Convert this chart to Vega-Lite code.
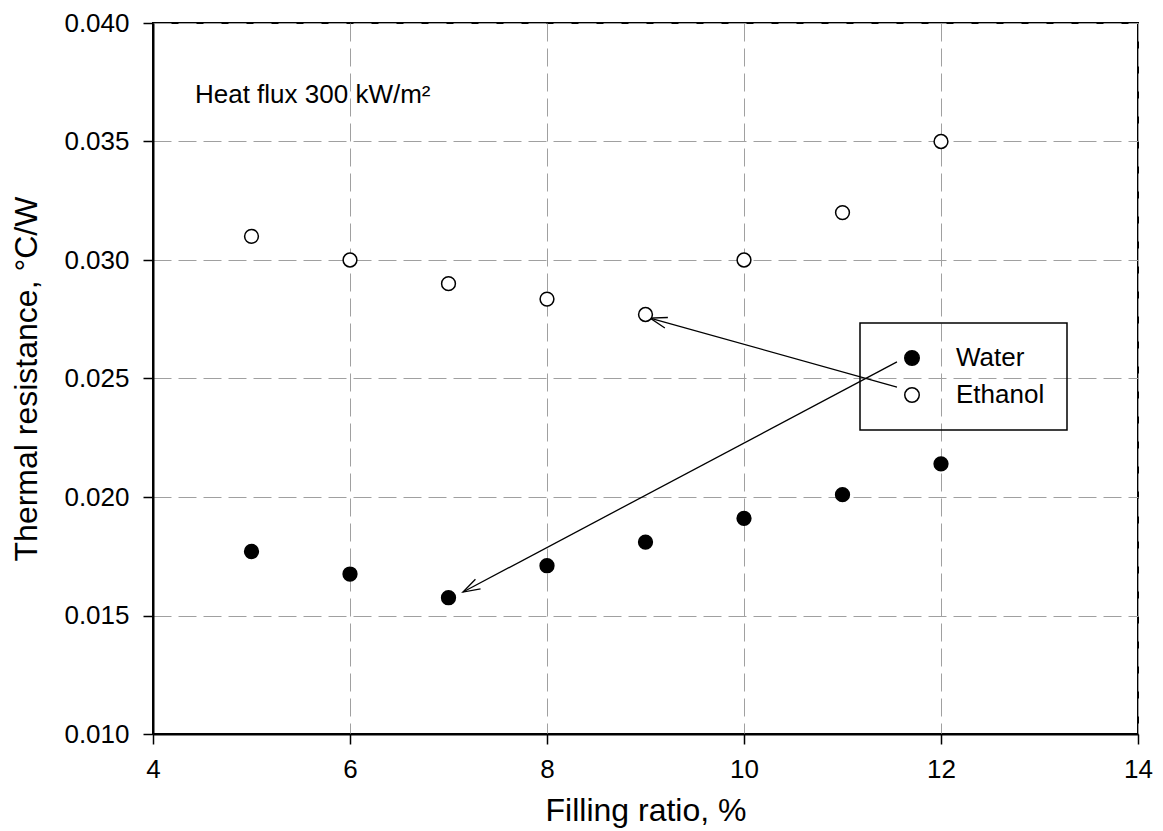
{
  "$schema": "https://vega.github.io/schema/vega-lite/v6.json",
  "width": 985,
  "height": 711,
  "autosize": "none",
  "padding": {"left": 153, "top": 23, "right": 25, "bottom": 97},
  "background": "white",
  "config": {
    "font": "Liberation Sans",
    "view": {"stroke": "black", "strokeWidth": 2},
    "axis": {
      "labelFont": "Liberation Sans",
      "titleFont": "Liberation Sans",
      "labelFontSize": 26,
      "titleFontSize": 32,
      "titleFontWeight": "normal",
      "labelColor": "black",
      "titleColor": "black",
      "domainColor": "black",
      "domainWidth": 2,
      "tickColor": "black",
      "tickWidth": 1.5,
      "tickSize": 10,
      "labelPadding": 12,
      "labelFlush": false,
      "labelOverlap": false,
      "grid": true,
      "gridColor": "#a0a0a0",
      "gridDash": [18, 7],
      "gridWidth": 1
    },
    "legend": {"strokeWidth": 1.5}
  },
  "datasets": {
    "points": [
      {"ratio": 5, "resistance": 0.0177, "fluid": "Water"},
      {"ratio": 6, "resistance": 0.01675, "fluid": "Water"},
      {"ratio": 7, "resistance": 0.01575, "fluid": "Water"},
      {"ratio": 8, "resistance": 0.0171, "fluid": "Water"},
      {"ratio": 9, "resistance": 0.0181, "fluid": "Water"},
      {"ratio": 10, "resistance": 0.0191, "fluid": "Water"},
      {"ratio": 11, "resistance": 0.0201, "fluid": "Water"},
      {"ratio": 12, "resistance": 0.0214, "fluid": "Water"},
      {"ratio": 5, "resistance": 0.031, "fluid": "Ethanol"},
      {"ratio": 6, "resistance": 0.03, "fluid": "Ethanol"},
      {"ratio": 7, "resistance": 0.029, "fluid": "Ethanol"},
      {"ratio": 8, "resistance": 0.02835, "fluid": "Ethanol"},
      {"ratio": 9, "resistance": 0.0277, "fluid": "Ethanol"},
      {"ratio": 10, "resistance": 0.03, "fluid": "Ethanol"},
      {"ratio": 11, "resistance": 0.032, "fluid": "Ethanol"},
      {"ratio": 12, "resistance": 0.035, "fluid": "Ethanol"}
    ],
    "arrows": [
      {"fluid": "Water", "x_from": 11.553, "y_from": 0.0257, "x_to": 7.147, "y_to": 0.01599},
      {"fluid": "Ethanol", "x_from": 11.553, "y_from": 0.02464, "x_to": 9.046, "y_to": 0.02755}
    ],
    "note": [
      {"ratio": 4.426, "resistance": 0.03662, "label": "Heat flux 300 kW/m²"}
    ]
  },
  "layer": [
    {
      "data": {"name": "arrows"},
      "mark": {"type": "rule", "color": "black", "strokeWidth": 1.3},
      "encoding": {
        "x": {"field": "x_from", "type": "quantitative", "scale": {"domain": [4, 14], "nice": false, "zero": false},
              "axis": {"title": "Filling ratio, %", "values": [4, 6, 8, 10, 12, 14], "format": "d", "titlePadding": 13}},
        "y": {"field": "y_from", "type": "quantitative", "scale": {"domain": [0.01, 0.04], "nice": false, "zero": false},
              "axis": {"title": "Thermal resistance, °C/W", "values": [0.01, 0.015, 0.02, 0.025, 0.03, 0.035, 0.04], "format": ".3f", "titlePadding": 20, "labelPadding": 14}},
        "x2": {"field": "x_to"},
        "y2": {"field": "y_to"}
      }
    },
    {
      "data": {"name": "arrows"},
      "transform": [{"filter": "datum.fluid === 'Water'"}],
      "mark": {"type": "point", "shape": "M -1 -0.32 L 0 0 L -1 0.32", "angle": 152, "size": 1156, "filled": false, "color": "black", "strokeWidth": 1.3, "opacity": 1},
      "encoding": {
        "x": {"field": "x_to", "type": "quantitative", "title": "Filling ratio, %"},
        "y": {"field": "y_to", "type": "quantitative", "title": "Thermal resistance, °C/W"}
      }
    },
    {
      "data": {"name": "arrows"},
      "transform": [{"filter": "datum.fluid === 'Ethanol'"}],
      "mark": {"type": "point", "shape": "M -1 -0.32 L 0 0 L -1 0.32", "angle": 196, "size": 1156, "filled": false, "color": "black", "strokeWidth": 1.3, "opacity": 1},
      "encoding": {
        "x": {"field": "x_to", "type": "quantitative", "title": "Filling ratio, %"},
        "y": {"field": "y_to", "type": "quantitative", "title": "Thermal resistance, °C/W"}
      }
    },
    {
      "data": {"name": "points"},
      "mark": {"type": "point", "shape": "circle", "filled": true, "size": 190, "stroke": "black", "strokeWidth": 1.5, "opacity": 1},
      "encoding": {
        "x": {"field": "ratio", "type": "quantitative", "title": "Filling ratio, %"},
        "y": {"field": "resistance", "type": "quantitative", "title": "Thermal resistance, °C/W"},
        "fill": {
          "field": "fluid", "type": "nominal",
          "scale": {"domain": ["Water", "Ethanol"], "range": ["black", "white"]},
          "legend": {
            "title": null,
            "orient": "none",
            "legendX": 707,
            "legendY": 300,
            "strokeColor": "black",
            "padding": 22,
            "symbolOffset": 17,
            "labelOffset": 31,
            "rowPadding": 11,
            "labelFontSize": 26,
            "labelFont": "Liberation Sans",
            "labelColor": "black",
            "symbolType": "circle",
            "symbolSize": 210,
            "symbolStrokeColor": "black",
            "symbolStrokeWidth": 1.5,
            "symbolOpacity": 1
          }
        }
      }
    },
    {
      "data": {"name": "note"},
      "mark": {"type": "text", "align": "left", "baseline": "alphabetic", "fontSize": 26, "font": "Liberation Sans", "color": "black"},
      "encoding": {
        "x": {"field": "ratio", "type": "quantitative", "title": "Filling ratio, %"},
        "y": {"field": "resistance", "type": "quantitative", "title": "Thermal resistance, °C/W"},
        "text": {"field": "label"}
      }
    }
  ]
}
